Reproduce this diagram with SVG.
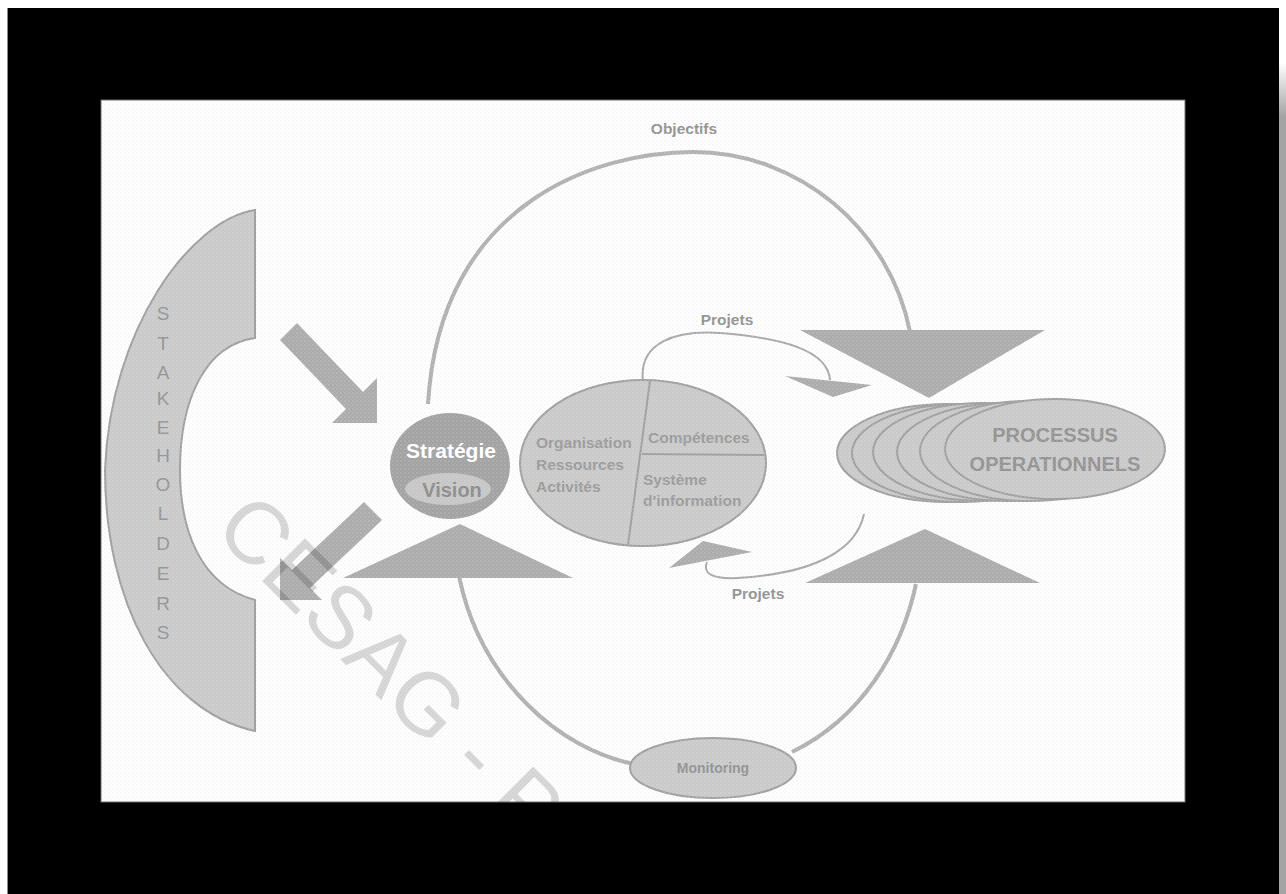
<svg xmlns="http://www.w3.org/2000/svg" width="1286" height="894" viewBox="0 0 1286 894">
  <defs>
    <pattern id="dots" width="4" height="4" patternUnits="userSpaceOnUse">
      <rect width="4" height="4" fill="#ffffff"/>
      <circle cx="1" cy="1" r="0.7" fill="#e6e6e6"/>
      <circle cx="3" cy="3" r="0.6" fill="#ececec"/>
    </pattern>
    <pattern id="speckle" width="4" height="4" patternUnits="userSpaceOnUse">
      <circle cx="1" cy="1" r="0.7" fill="#ffffff" fill-opacity="0.35"/>
      <circle cx="3" cy="3" r="0.6" fill="#ffffff" fill-opacity="0.25"/>
    </pattern>
    <linearGradient id="edgeShade" x1="0" y1="0" x2="0" y2="1">
      <stop offset="0" stop-color="#ffffff"/>
      <stop offset="0.07" stop-color="#ffffff"/>
      <stop offset="0.13" stop-color="#a4a4a4"/>
      <stop offset="1" stop-color="#a4a4a4"/>
    </linearGradient>
    <clipPath id="panelClip">
      <rect x="101" y="100" width="1084" height="702"/>
    </clipPath>
    <style>
      .lbl { font-family: "Liberation Sans", Arial, sans-serif; font-weight: bold; fill: #929292; }
      .inner { font-family: "Liberation Sans", Arial, sans-serif; font-weight: bold; fill: #9a9a9a; font-size: 15.5px; }
      .shape { fill: #c9c9c9; stroke: #9f9f9f; stroke-width: 2; }
      .tri { fill: #ababab; stroke: none; }
      .loop { fill: none; stroke: #b0b0b0; stroke-width: 4; }
      .thin { fill: none; stroke: #a8a8a8; stroke-width: 2; }
      .stk { font-family: "Liberation Sans", Arial, sans-serif; fill: #949494; font-size: 19px; text-anchor: middle; }
    </style>
  </defs>

  <!-- frame -->
  <rect width="1286" height="894" fill="#ffffff"/>
  <rect x="7" y="8" width="1272" height="886" fill="#000000"/>
  <line x1="7.5" y1="8" x2="7.5" y2="894" stroke="#8a8a8a" stroke-width="1"/>
  <rect x="1279" y="0" width="7" height="894" fill="url(#edgeShade)"/>

  <!-- panel -->
  <rect x="101" y="100" width="1084" height="702" fill="url(#dots)" stroke="#6a6a6a" stroke-width="1"/>

  <g clip-path="url(#panelClip)">
    <!-- connectors -->
    <g id="connectors">
      <path id="objectifs-loop" class="loop" d="M428,404 C440,200 600,152 693,152 C800,152 890,230 910,332"/>
      <path id="monitoring-left" class="loop" d="M459,576 C480,680 560,750 634,764"/>
      <path id="monitoring-right" class="loop" d="M792,752 C862,718 902,650 916,584"/>
      <path id="projets-top" class="thin" d="M643,382 C638,342 676,330 720,333 C782,338 828,350 830,380"/>
      <polygon id="projets-top-head" class="tri" points="785,376 872,385 833,397"/>
      <path id="projets-bottom" class="thin" d="M864,514 C856,552 812,570 760,576 C728,580 700,580 707,562"/>
      <polygon id="projets-bottom-head" class="tri" points="669,568 703,541 752,552"/>
      <polygon id="arrow-in" class="tri" points="297,323 363,392 377,378 377,423 332,423 346,409 280,340"/>
      <polygon id="arrow-out" class="tri" points="364,502 382,520 310,588 322,600 280,600 280,558 292,570"/>
      <polygon id="tri-strategie" class="tri" points="460,524 573,578 343,578"/>
      <polygon id="tri-processus-top" class="tri" points="800,330 1045,330 929,398"/>
      <polygon id="tri-processus-bottom" class="tri" points="925,529 1040,583 805,583"/>
    </g>

    <!-- stakeholders crescent -->
    <g id="stakeholders">
      <path class="shape" stroke-width="3" d="M255,210 C190,220 110,330 105,470 C105,600 160,710 255,731 L255,600 C200,585 180,530 180,470 C180,400 205,345 255,338 Z"/>
      <text class="stk" x="163" y="320">S</text>
      <text class="stk" x="163" y="350">T</text>
      <text class="stk" x="163" y="379">A</text>
      <text class="stk" x="163" y="405">K</text>
      <text class="stk" x="163" y="434">E</text>
      <text class="stk" x="163" y="462">H</text>
      <text class="stk" x="163" y="491">O</text>
      <text class="stk" x="163" y="520">L</text>
      <text class="stk" x="163" y="550">D</text>
      <text class="stk" x="163" y="580">E</text>
      <text class="stk" x="163" y="610">R</text>
      <text class="stk" x="163" y="639">S</text>
    </g>

    <!-- strategy / vision -->
    <g id="strategie">
      <ellipse cx="450" cy="466" rx="60" ry="53" fill="#a2a2a2"/>
      <text x="451" y="458" font-family="Liberation Sans, Arial, sans-serif" font-weight="bold" font-size="21" fill="#ffffff" text-anchor="middle">Stratégie</text>
      <ellipse cx="448" cy="489" rx="43" ry="16" fill="#c6c6c6"/>
      <text x="452" y="497" font-family="Liberation Sans, Arial, sans-serif" font-weight="bold" font-size="20" fill="#8c8c8c" text-anchor="middle">Vision</text>
    </g>

    <!-- organisation ellipse -->
    <g id="organisation">
      <ellipse class="shape" cx="643" cy="463" rx="123" ry="83"/>
      <line x1="650" y1="381" x2="628" y2="545" stroke="#9f9f9f" stroke-width="2"/>
      <line x1="642" y1="454" x2="764" y2="455" stroke="#9f9f9f" stroke-width="2"/>
      <text class="inner" x="536" y="448">Organisation</text>
      <text class="inner" x="536" y="470">Ressources</text>
      <text class="inner" x="536" y="492">Activités</text>
      <text class="inner" x="648" y="443">Compétences</text>
      <text class="inner" x="643" y="485">Système</text>
      <text class="inner" x="643" y="506">d'information</text>
    </g>

    <!-- operational processes stack -->
    <g id="processus">
      <ellipse class="shape" cx="947" cy="453" rx="110" ry="49"/>
      <ellipse class="shape" cx="962" cy="453" rx="110" ry="49"/>
      <ellipse class="shape" cx="983" cy="452" rx="110" ry="49"/>
      <ellipse class="shape" cx="1007" cy="452" rx="110" ry="49"/>
      <ellipse class="shape" cx="1030" cy="451" rx="110" ry="50"/>
      <ellipse class="shape" cx="1055" cy="449" rx="110" ry="50"/>
      <text class="lbl" x="1055" y="442" font-size="20" text-anchor="middle">PROCESSUS</text>
      <text class="lbl" x="1055" y="471" font-size="20" text-anchor="middle">OPERATIONNELS</text>
    </g>

    <!-- monitoring -->
    <g id="monitoring">
      <ellipse class="shape" cx="713" cy="768" rx="83" ry="30"/>
      <text class="lbl" x="713" y="773" font-size="14" text-anchor="middle">Monitoring</text>
    </g>

    <!-- loop labels -->
    <g id="labels">
      <text class="lbl" x="684" y="134" font-size="15.5" text-anchor="middle">Objectifs</text>
      <text class="lbl" x="727" y="325" font-size="15.5" text-anchor="middle">Projets</text>
      <text class="lbl" x="758" y="599" font-size="15.5" text-anchor="middle">Projets</text>
    </g>

    <!-- print grain over the grey shapes -->
    <rect x="101" y="100" width="1084" height="702" fill="url(#speckle)"/>

    <!-- watermark -->
    <text id="watermark" transform="translate(212,531) rotate(45)" font-family="Liberation Sans, Arial, sans-serif" font-size="88" fill="#000000" fill-opacity="0.15">CESAG - P</text>
  </g>
</svg>
